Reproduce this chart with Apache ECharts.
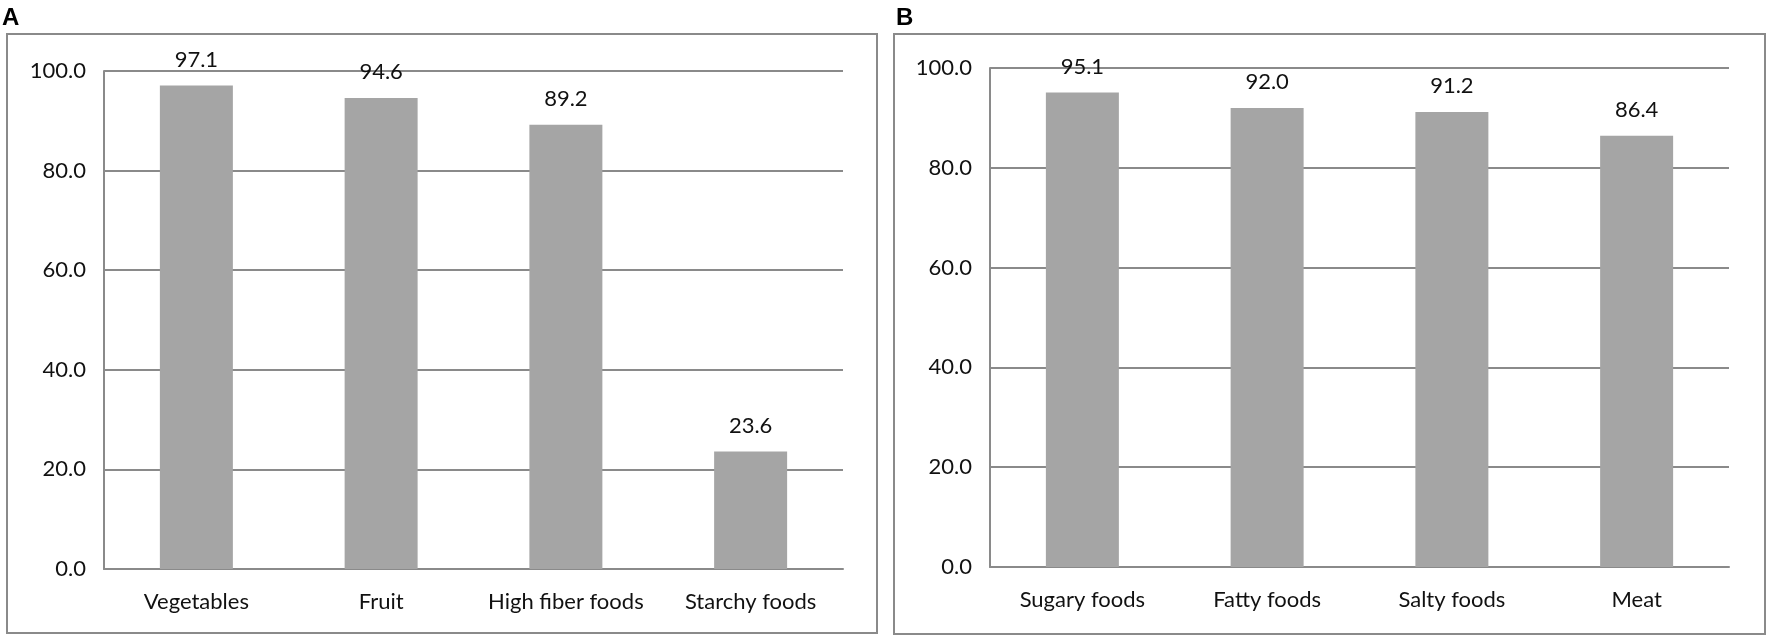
<!DOCTYPE html>
<html>
<head>
<meta charset="utf-8">
<script src="https://cdn.jsdelivr.net/npm/echarts@6/dist/echarts.min.js"></script>
<style>
html,body{margin:0;padding:0;background:#fff;}
#chart{width:1772px;height:642px;}
</style>
</head>
<body>
<div id="chart"></div>
<script>
const categoriesA = ['Vegetables', 'Fruit', 'High fiber foods', 'Starchy foods'];
const valuesA = [97.1, 94.6, 89.2, 23.6];
const categoriesB = ['Sugary foods', 'Fatty foods', 'Salty foods', 'Meat'];
const valuesB = [95.1, 92.0, 91.2, 86.4];
const panelLabels = ['A', 'B'];
const yMin = 0, yMax = 100, yStep = 20;

const FONT = 'Lato';
const TXT = '#111';
const LINE = '#8a8a8a';
const BAR = '#a5a5a5';
const FS = 22;

const chart = echarts.init(document.getElementById('chart'));

function xAxis(idx, cats) {
  return {
    type: 'category', gridIndex: idx, data: cats,
    axisTick: {show: false},
    axisLine: {show: true, lineStyle: {color: LINE, width: 2}},
    axisLabel: {color: TXT, fontFamily: FONT, fontSize: FS, margin: 22,
      interval: 0, hideOverlap: false}
  };
}
function yAxis(idx) {
  return {
    type: 'value', gridIndex: idx, min: yMin, max: yMax, interval: yStep,
    axisTick: {show: false},
    axisLine: {show: true, lineStyle: {color: LINE, width: 2}},
    splitLine: {show: true, lineStyle: {color: LINE, width: 2}},
    axisLabel: {color: TXT, fontFamily: FONT, fontSize: FS, margin: 18,
      formatter: v => v.toFixed(1)}
  };
}
function series(idx, vals) {
  return {
    type: 'bar', xAxisIndex: idx, yAxisIndex: idx, data: vals,
    barWidth: 73,
    itemStyle: {color: BAR},
    label: {show: true, position: 'top', distance: 15, color: TXT,
      fontFamily: FONT, fontSize: FS, formatter: p => p.value.toFixed(1)}
  };
}

chart.setOption({
  animation: false,
  backgroundColor: '#fff',
  grid: [
    {left: 104, right: 929, top: 71, bottom: 73},
    {left: 990, right: 43, top: 68, bottom: 75}
  ],
  xAxis: [xAxis(0, categoriesA), xAxis(1, categoriesB)],
  yAxis: [yAxis(0), yAxis(1)],
  series: [series(0, valuesA), series(1, valuesB)],
  graphic: [
    {type: 'rect', shape: {x: 7, y: 34, width: 870, height: 599},
      style: {fill: 'none', stroke: LINE, lineWidth: 2}},
    {type: 'rect', shape: {x: 894, y: 34, width: 871, height: 600},
      style: {fill: 'none', stroke: LINE, lineWidth: 2}},
    {type: 'text', left: 2, top: 6, style: {text: panelLabels[0], fill: '#000',
      font: 'bold 24px "Liberation Sans", Arial, sans-serif'}},
    {type: 'text', left: 896, top: 6, style: {text: panelLabels[1], fill: '#000',
      font: 'bold 24px "Liberation Sans", Arial, sans-serif'}}
  ]
});
</script>
</body>
</html>
